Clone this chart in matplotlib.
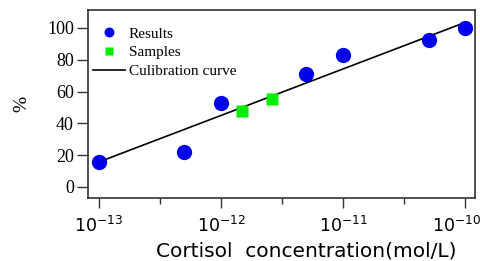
import numpy as np
import matplotlib.pyplot as plt
from matplotlib.ticker import FixedLocator
from matplotlib.transforms import ScaledTranslation

# -------------------------------
# Data
# -------------------------------
result_conc = [1e-13, 5e-13, 1e-12, 5e-12, 1e-11, 5e-11, 1e-10]
result_pct = [16, 22, 53, 71, 83, 92.5, 100]

sample_conc = [1.48e-12, 2.6e-12]
sample_pct = [47.5, 55.5]

curve_conc = [1e-13, 1e-10]
curve_pct = [15.7, 103.5]

x_ticks = [1e-13, 1e-12, 1e-11, 1e-10]
x_exponents = [-13, -12, -11, -10]
x_minor = [10**-12.5, 10**-11.5, 10**-10.5]
y_ticks = [0, 20, 40, 60, 80, 100]

plt.rcParams['mathtext.fontset'] = 'dejavusans'

fig = plt.figure(figsize=(4.8, 2.61), dpi=100)
ax = fig.add_axes([0.183, 0.241, 0.807, 0.721])

ax.plot(curve_conc, curve_pct, color='black', lw=1.2, label='Culibration curve', zorder=2)
ax.plot(result_conc, result_pct, 'o', color='#0000ee', ms=11, mec='none', label='Results', zorder=3)
ax.plot(sample_conc, sample_pct, 's', color='#00ee00', ms=8.5, mec='none', label='Samples', zorder=3)

ax.set_xscale('log')
ax.set_xlim(10**-13.09, 10**-9.92)
ax.set_ylim(-7, 111.3)

ax.xaxis.set_major_locator(FixedLocator(x_ticks))
ax.xaxis.set_minor_locator(FixedLocator(x_minor))
ax.set_xticklabels([r'$10^{%d}$' % e for e in x_exponents], fontsize=12.5)
ax.set_yticks(y_ticks)

for lab in ax.get_yticklabels():
    lab.set_family('Liberation Serif')
    lab.set_fontsize(13)
ax.tick_params(axis='x', which='major', length=7, width=1, color='#333333', pad=6)
ax.tick_params(axis='x', which='minor', length=4, width=1, color='#333333')
ax.tick_params(axis='y', length=8, width=1, color='#333333', pad=2)

# keep the last tick label inside the canvas
last = ax.get_xticklabels()[-1]
last.set_transform(last.get_transform() + ScaledTranslation(-9 / 100, 0, fig.dpi_scale_trans))

for s in ax.spines.values():
    s.set_color('#333333')
    s.set_linewidth(1.2)

ax.set_xlabel('Cortisol  concentration(mol/L)', fontsize=14.5)
ax.xaxis.set_label_coords(0.563, -0.23)
ax.set_ylabel('%', family='Liberation Serif', fontsize=14, labelpad=12)

handles, labels = ax.get_legend_handles_labels()
order = [1, 2, 0]
ax.legend([handles[i] for i in order], [labels[i] for i in order],
          loc='upper left', bbox_to_anchor=(0.001, 0.934), frameon=False,
          prop={'family': 'Liberation Serif', 'size': 11},
          markerscale=0.65, handlelength=2.1, handletextpad=0.25, labelspacing=0.33,
          borderaxespad=0, borderpad=0.3)

fig.savefig('out.png', dpi=100)
